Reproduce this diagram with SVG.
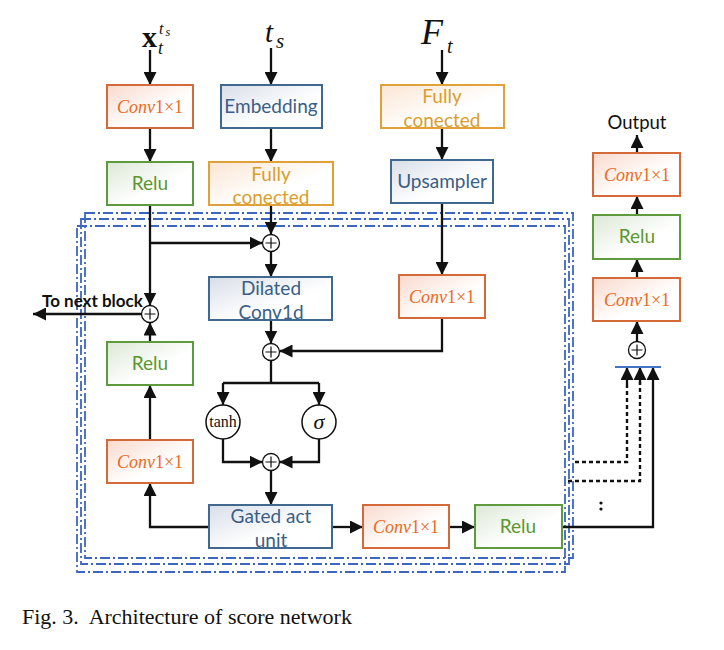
<svg xmlns="http://www.w3.org/2000/svg" width="724" height="650" viewBox="0 0 724 650">
<defs>
<marker id="ah" markerUnits="userSpaceOnUse" markerWidth="13" markerHeight="13" refX="13" refY="6.5" orient="auto">
<path d="M0,0 L13,6.5 L0,13 z" fill="#111"/>
</marker>
<linearGradient id="gO" x1="0" y1="0" x2="1" y2="1"><stop offset="0" stop-color="#F9D9CC"/><stop offset="0.6" stop-color="#FFFFFF"/></linearGradient>
<linearGradient id="gG" x1="0" y1="0" x2="1" y2="1"><stop offset="0" stop-color="#DCE8D6"/><stop offset="0.6" stop-color="#FFFFFF"/></linearGradient>
<linearGradient id="gB" x1="0" y1="0" x2="1" y2="1"><stop offset="0" stop-color="#D8DEE8"/><stop offset="0.6" stop-color="#FFFFFF"/></linearGradient>
<linearGradient id="gY" x1="0" y1="0" x2="1" y2="1"><stop offset="0" stop-color="#FBE6D4"/><stop offset="0.6" stop-color="#FFFFFF"/></linearGradient>
</defs>
<style>
.ln{stroke:#111;stroke-width:2.3;fill:none}
.arr{marker-end:url(#ah)}
.dot{stroke:#111;stroke-width:2.4;fill:none;stroke-dasharray:4,3}
.blk{stroke:#3D66BE;stroke-width:1.8;fill:none;stroke-dasharray:10,3,2,3}
.o rect{fill:url(#gO);stroke:#D4693A;stroke-width:2}
.g rect{fill:url(#gG);stroke:#5E9A3E;stroke-width:2}
.b rect{fill:url(#gB);stroke:#41698F;stroke-width:2}
.y rect{fill:url(#gY);stroke:#E0A03A;stroke-width:2}
.o text{font-family:"Liberation Serif",serif;font-size:18px;fill:#EC6A24;text-anchor:middle}
.g text{font-family:Lato,"Open Sans",sans-serif;font-size:19px;fill:#5B962F;text-anchor:middle}
.b text{font-family:Lato,"Open Sans",sans-serif;font-size:19px;fill:#3A5E86;text-anchor:middle}
.y text{font-family:Lato,"Open Sans",sans-serif;font-size:19px;fill:#D99E2E;text-anchor:middle}
.add circle{fill:#fff;stroke:#111;stroke-width:1.3}
.add path{stroke:#111;stroke-width:1.2}
.fn circle{fill:#fff;stroke:#111;stroke-width:1.5}
.math{font-family:"Liberation Serif",serif;fill:#111}
</style>

<!-- block frames -->
<g id="blocks">
<rect class="blk" x="85" y="213" width="488" height="345"/>
<rect class="blk" x="81" y="219" width="488" height="345"/>
<rect class="blk" x="77" y="226" width="488" height="346"/>
</g>

<!-- input labels -->
<g id="label_x">
<text class="math" x="142" y="47" font-size="30" font-weight="bold">x</text>
<text class="math" x="159" y="34" font-size="16" font-style="italic">t</text>
<text class="math" x="165.5" y="36" font-size="12" font-style="italic">s</text>
<text class="math" x="158" y="54" font-size="18" font-style="italic">t</text>
</g>
<g id="label_ts">
<text class="math" x="265" y="42" font-size="29" font-style="italic">t</text>
<text class="math" x="276" y="48" font-size="21" font-style="italic">s</text>
</g>
<g id="label_Ft">
<text class="math" x="421" y="44" font-size="36" font-style="italic">F</text>
<text class="math" x="447" y="53" font-size="20" font-style="italic">t</text>
</g>

<!-- connectors -->
<g id="connectors">
<path class="ln arr" d="M150,50 V85"/>
<path class="ln arr" d="M150,128 V162"/>
<path class="ln arr" d="M271,48 V85"/>
<path class="ln arr" d="M271,128 V162"/>
<path class="ln arr" d="M442,50 V85"/>
<path class="ln arr" d="M442,128 V160"/>
<path class="ln arr" d="M150,205 V305.5"/>
<path class="ln arr" d="M150,243 H262.5"/>
<path class="ln arr" d="M271,205 V234.5"/>
<path class="ln arr" d="M271,251.5 V277"/>
<path class="ln arr" d="M442,203 V275"/>
<path class="ln arr" d="M271,320 V343.5"/>
<path class="ln arr" d="M442,318 V351 H279.5"/>
<path class="ln" d="M271,360.5 V383"/>
<path class="ln" d="M223,383 H319"/>
<path class="ln arr" d="M223,383 V405"/>
<path class="ln arr" d="M319,383 V405"/>
<path class="ln arr" d="M223,439 V462 H262.5"/>
<path class="ln arr" d="M319,439 V462 H279.5"/>
<path class="ln arr" d="M271,470.5 V505"/>
<path class="ln arr" d="M209,527 H150 V483"/>
<path class="ln arr" d="M150,440 V385"/>
<path class="ln arr" d="M150,342 V322.5"/>
<path class="ln arr" d="M141.5,314 H33"/>
<path class="ln arr" d="M332,527 H363"/>
<path class="ln arr" d="M449,527 H475"/>
<path class="ln arr" d="M562,527 H653 V367"/>
<path class="dot" d="M575,462 H627 V382"/>
<path class="dot" d="M568,481 H640 V382"/>
<path class="ln arr" d="M627,384 V367"/>
<path class="ln arr" d="M640,384 V367"/>
<path class="ln arr" d="M637,341.5 V321"/>
<path class="ln arr" d="M637,278 V259"/>
<path class="ln arr" d="M637,215 V196"/>
<path class="ln arr" d="M637,153 V135"/>
<line x1="615" y1="367" x2="661" y2="367" stroke="#4472C4" stroke-width="2.2"/>
</g>
<g id="ellipsis">
<circle cx="601" cy="503" r="1.6" fill="#111"/>
<circle cx="601" cy="509" r="1.6" fill="#111"/>
</g>

<!-- nodes -->
<g id="conv_in" class="o"><rect x="107" y="85" width="86" height="43"/><text x="150" y="113"><tspan font-style="italic">Conv</tspan>1×1</text></g>
<g id="relu_in" class="g"><rect x="107" y="162" width="86" height="43"/><text x="150" y="190">Relu</text></g>
<g id="embedding" class="b"><rect x="221" y="85" width="101" height="43"/><text x="271" y="113">Embedding</text></g>
<g id="fc_t" class="y"><rect x="209" y="162" width="124" height="43"/><text x="271" y="181">Fully</text><text x="271" y="204">conected</text></g>
<g id="fc_f" class="y"><rect x="381" y="85" width="123" height="43"/><text x="442" y="103">Fully</text><text x="442" y="127">conected</text></g>
<g id="upsampler" class="b"><rect x="391" y="160" width="102" height="43"/><text x="442" y="188">Upsampler</text></g>
<g id="add_top" class="add"><circle cx="271" cy="243" r="8.5"/><path d="M265.5,243 H276.5 M271,237.5 V248.5"/></g>
<g id="dilated" class="b"><rect x="209" y="277" width="123" height="43"/><text x="271" y="295">Dilated</text><text x="271" y="319">Conv1d</text></g>
<g id="conv_cond" class="o"><rect x="399" y="275" width="86" height="43"/><text x="442" y="303"><tspan font-style="italic">Conv</tspan>1×1</text></g>
<g id="add_cond" class="add"><circle cx="271" cy="352" r="8.5"/><path d="M265.5,352 H276.5 M271,346.5 V357.5"/></g>
<g id="tanh" class="fn"><circle cx="223" cy="422" r="17"/><text x="223" y="427" font-family="Liberation Serif,serif" font-size="16" text-anchor="middle" fill="#111">tanh</text></g>
<g id="sigma" class="fn"><circle cx="319" cy="422" r="17"/><text x="319" y="429" font-family="Liberation Serif,serif" font-size="22" font-style="italic" text-anchor="middle" fill="#111">σ</text></g>
<g id="add_gate" class="add"><circle cx="271" cy="462" r="8.5"/><path d="M265.5,462 H276.5 M271,456.5 V467.5"/></g>
<g id="gated" class="b"><rect x="209" y="505" width="123" height="43"/><text x="271" y="523">Gated act</text><text x="271" y="547">unit</text></g>
<g id="conv_skip" class="o"><rect x="363" y="505" width="86" height="43"/><text x="406" y="533"><tspan font-style="italic">Conv</tspan>1×1</text></g>
<g id="relu_skip" class="g"><rect x="475" y="505" width="87" height="43"/><text x="518" y="533">Relu</text></g>
<g id="conv_res" class="o"><rect x="107" y="440" width="86" height="43"/><text x="150" y="468"><tspan font-style="italic">Conv</tspan>1×1</text></g>
<g id="relu_res" class="g"><rect x="107" y="342" width="86" height="43"/><text x="150" y="370">Relu</text></g>
<g id="add_res" class="add"><circle cx="150" cy="314" r="8.5"/><path d="M144.5,314 H155.5 M150,308.5 V319.5"/></g>
<g id="next_label"><text x="42" y="307" font-family="Lato,'Open Sans',sans-serif" font-size="17" font-weight="bold" fill="#111">To next block</text></g>
<g id="add_out" class="add"><circle cx="637" cy="350" r="8.5"/><path d="M631.5,350 H642.5 M637,344.5 V355.5"/></g>
<g id="conv_out1" class="o"><rect x="593" y="278" width="87" height="43"/><text x="637" y="306"><tspan font-style="italic">Conv</tspan>1×1</text></g>
<g id="relu_out" class="g"><rect x="593" y="215" width="87" height="44"/><text x="637" y="243">Relu</text></g>
<g id="conv_out2" class="o"><rect x="593" y="153" width="87" height="43"/><text x="637" y="181"><tspan font-style="italic">Conv</tspan>1×1</text></g>
<g id="output_label"><text x="637" y="129" font-family="Lato,'Open Sans',sans-serif" font-size="18.5" text-anchor="middle" fill="#111">Output</text></g>

<g id="caption"><text x="22" y="624" font-family="Liberation Serif,serif" font-size="22" fill="#111" xml:space="preserve">Fig. 3.  Architecture of score network</text></g>
</svg>
